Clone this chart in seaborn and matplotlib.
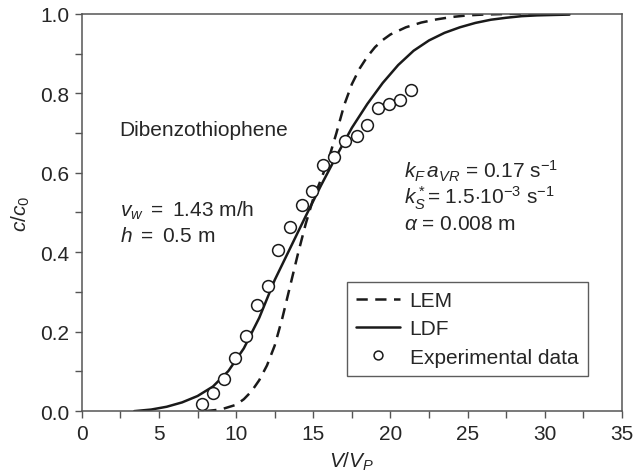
import matplotlib
matplotlib.use("Agg")
import matplotlib.pyplot as plt
from matplotlib.ticker import MultipleLocator
import seaborn as sns
import pandas as pd

# LDF model curve (solid)
ldf_x = [3.4, 4.5, 5.5, 6.5, 7.5, 8.5, 9.5, 10.5, 11.5, 12.5, 13.5, 14.5, 15.5,
         16.5, 17.5, 18.5, 19.5, 20.5, 21.5, 22.5, 23.5, 24.5, 25.5, 26.5,
         27.5, 28.5, 29.5, 30.5, 31.6]
ldf_y = [0.0, 0.004, 0.011, 0.022, 0.038, 0.062, 0.101, 0.158, 0.235, 0.33,
         0.41, 0.49, 0.568, 0.642, 0.713, 0.773, 0.826, 0.871, 0.907, 0.933,
         0.952, 0.966, 0.977, 0.985, 0.99, 0.994, 0.996, 0.997, 0.998]

# LEM model curve (dashed)
lem_x = [8.0, 9.0, 10.0, 10.5, 11.0, 11.5, 12.0, 12.5, 13.0, 13.5, 14.0, 14.5,
         15.0, 15.5, 16.0, 16.5, 17.0, 17.5, 18.0, 18.5, 19.0, 19.5, 20.0,
         21.0, 22.0, 23.0, 24.0, 25.0, 26.0, 28.0, 31.6]
lem_y = [0.0, 0.004, 0.016, 0.03, 0.05, 0.078, 0.115, 0.165, 0.235, 0.315,
         0.395, 0.47, 0.535, 0.583, 0.635, 0.70, 0.77, 0.823, 0.862, 0.892,
         0.916, 0.934, 0.948, 0.966, 0.978, 0.986, 0.992, 0.996, 0.998, 1.0, 1.0]

# experimental points
exp_x = [7.82, 8.51, 9.20, 9.92, 10.63, 11.36, 12.08, 12.72, 13.48, 14.30,
         14.91, 15.64, 16.35, 17.04, 17.80, 18.45, 19.20, 19.92, 20.61, 21.30]
exp_y = [0.018, 0.045, 0.081, 0.133, 0.19, 0.268, 0.316, 0.406, 0.464, 0.52,
         0.553, 0.62, 0.639, 0.681, 0.693, 0.72, 0.762, 0.773, 0.782, 0.809]

sns.set_theme(style="white")
plt.rcParams["font.family"] = ["Liberation Sans", "DejaVu Sans"]
plt.rcParams["mathtext.fontset"] = "custom"
plt.rcParams["mathtext.rm"] = "Liberation Sans"
plt.rcParams["mathtext.it"] = "Liberation Sans:italic"

fig = plt.figure(figsize=(6.34, 4.77), dpi=100)
ax = fig.add_axes([0.129, 0.136, 0.852, 0.833])

ink = "#1a1a1a"
lem = pd.DataFrame({"x": lem_x, "y": lem_y})
ldf = pd.DataFrame({"x": ldf_x, "y": ldf_y})
exp = pd.DataFrame({"x": exp_x, "y": exp_y})

sns.lineplot(data=lem, x="x", y="y", ax=ax, color=ink, lw=1.8,
             linestyle=(0, (4.5, 3)), label="LEM")
sns.lineplot(data=ldf, x="x", y="y", ax=ax, color=ink, lw=1.8, label="LDF")
ax.plot(exp_x, exp_y, linestyle="none", marker="o", ms=8.5, mfc="white",
        mec=ink, mew=1.1, label="Experimental data")

ax.set_xlim(0, 35)
ax.set_ylim(0, 1.0)
ax.xaxis.set_major_locator(MultipleLocator(5))
ax.xaxis.set_minor_locator(MultipleLocator(2.5))
ax.yaxis.set_major_locator(MultipleLocator(0.2))
ax.yaxis.set_minor_locator(MultipleLocator(0.1))
ax.set_yticklabels([f"{v:.1f}" for v in ax.get_yticks()])
ax.tick_params(which="both", direction="out", length=5, width=1, color="#555",
               labelsize=15, pad=4, bottom=True, left=True)
for s in ax.spines.values():
    s.set_color("#555")
    s.set_linewidth(1.1)

ax.set_xlabel(r"$V/V_P$", fontsize=15, labelpad=5)
ax.set_ylabel(r"$c/c_0$", fontsize=15, labelpad=6)

ax.text(2.42, 0.695, "Dibenzothiophene", fontsize=15, va="baseline")
ax.text(2.5, 0.491, r"$v_w$ $=$ 1.43 m/h", fontsize=15, va="baseline")
ax.text(2.5, 0.428, r"$h$ $=$ 0.5 m", fontsize=15, va="baseline")
ax.text(20.9, 0.588, r"$k_F\,a_{VR}$ = 0.17 s$^{-1}$", fontsize=15, va="baseline")
ax.text(20.9, 0.524, r"$k_S^*$= 1.5$\cdot$10$^{-3}$ s$^{-1}$", fontsize=15,
        va="baseline")
ax.text(20.9, 0.458, r"$\alpha$ = 0.008 m", fontsize=15, va="baseline")

leg = ax.legend(loc="lower left", bbox_to_anchor=(0.491, 0.088), fontsize=15,
                frameon=True, fancybox=False, handlelength=2.1,
                borderpad=0.45, labelspacing=0.45, handletextpad=0.45,
                borderaxespad=0, markerscale=0.75)
leg.get_frame().set_edgecolor("#333")
leg.get_frame().set_linewidth(1.0)

fig.savefig("out.png", dpi=100)
